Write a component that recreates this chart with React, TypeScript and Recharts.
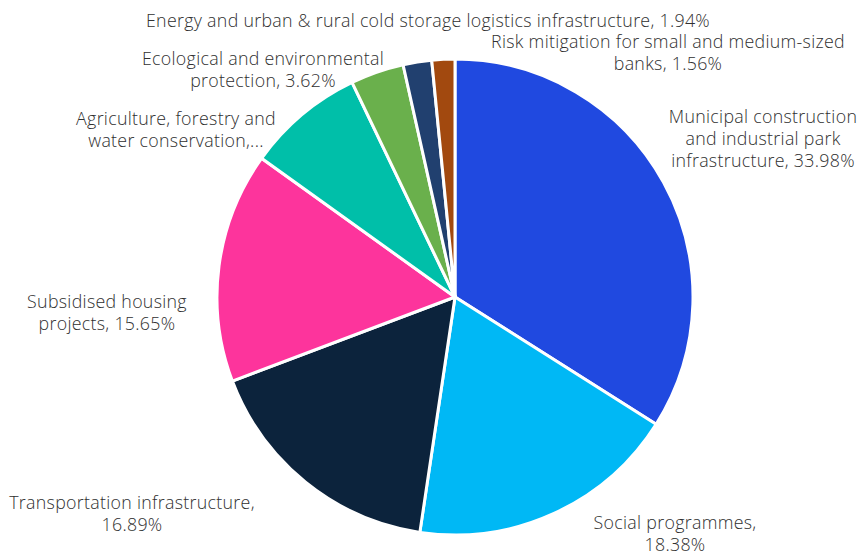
import { PieChart, Pie, Cell } from "recharts";

const categories = [
  "Municipal construction and industrial park infrastructure",
  "Social programmes",
  "Transportation infrastructure",
  "Subsidised housing projects",
  "Agriculture, forestry and water conservation",
  "Ecological and environmental protection",
  "Energy and urban & rural cold storage logistics infrastructure",
  "Risk mitigation for small and medium-sized banks",
];
const shares = [33.98, 18.38, 16.89, 15.65, 7.98, 3.62, 1.94, 1.56];
const colors = ["#2049E0", "#00B8F5", "#0C233C", "#FD349C", "#00BFA9", "#6AB04C", "#21406F", "#A2490F"];

// label text as displayed (wrapped lines)
const labelLines = [
  ["Municipal construction", "and industrial park", "infrastructure, 33.98%"],
  ["Social programmes,", "18.38%"],
  ["Transportation infrastructure,", "16.89%"],
  ["Subsidised housing", "projects, 15.65%"],
  ["Agriculture, forestry and", "water conservation,..."],
  ["Ecological and environmental", "protection, 3.62%"],
  ["Energy and urban & rural cold storage logistics infrastructure, 1.94%"],
  ["Risk mitigation for small and medium-sized", "banks, 1.56%"],
];
// label block centers (layout only)
const labelPos = [
  [763, 116],
  [675, 522],
  [132, 502],
  [107, 301],
  [176, 118],
  [263, 58],
  [428, 20],
  [668, 41],
];

const data = categories.map((name, i) => ({ name, value: shares[i] }));

const LINE_H = 22;

function renderLabel(props: any) {
  const i = props.index;
  const [x, y] = labelPos[i];
  return (
    <text
      key={"lbl" + i}
      x={x}
      y={y}
      textAnchor="middle"
      dominantBaseline="central"
      fill="#303030"
      fontSize={17.8}
      fontWeight={300}
      letterSpacing={0.3}
      fontFamily="'Open Sans', sans-serif"
    >
      {labelLines[i].map((l, j) => (
        <tspan key={j} x={x} y={y + j * LINE_H}>
          {l}
        </tspan>
      ))}
    </text>
  );
}

export default function App() {
  return (
    <div style={{ position: "absolute", left: 0, top: 0, background: "#fff" }}>
      <PieChart width={865} height={555} margin={{ top: 0, right: 0, bottom: 0, left: 0 }}>
        <Pie
          data={data}
          dataKey="value"
          nameKey="name"
          cx={455}
          cy={297}
          outerRadius={238}
          startAngle={90}
          endAngle={-270}
          stroke="#ffffff"
          strokeWidth={3}
          label={renderLabel}
          labelLine={false}
          isAnimationActive={false}
        >
          {data.map((d, i) => (
            <Cell key={d.name} fill={colors[i]} />
          ))}
        </Pie>
      </PieChart>
    </div>
  );
}
